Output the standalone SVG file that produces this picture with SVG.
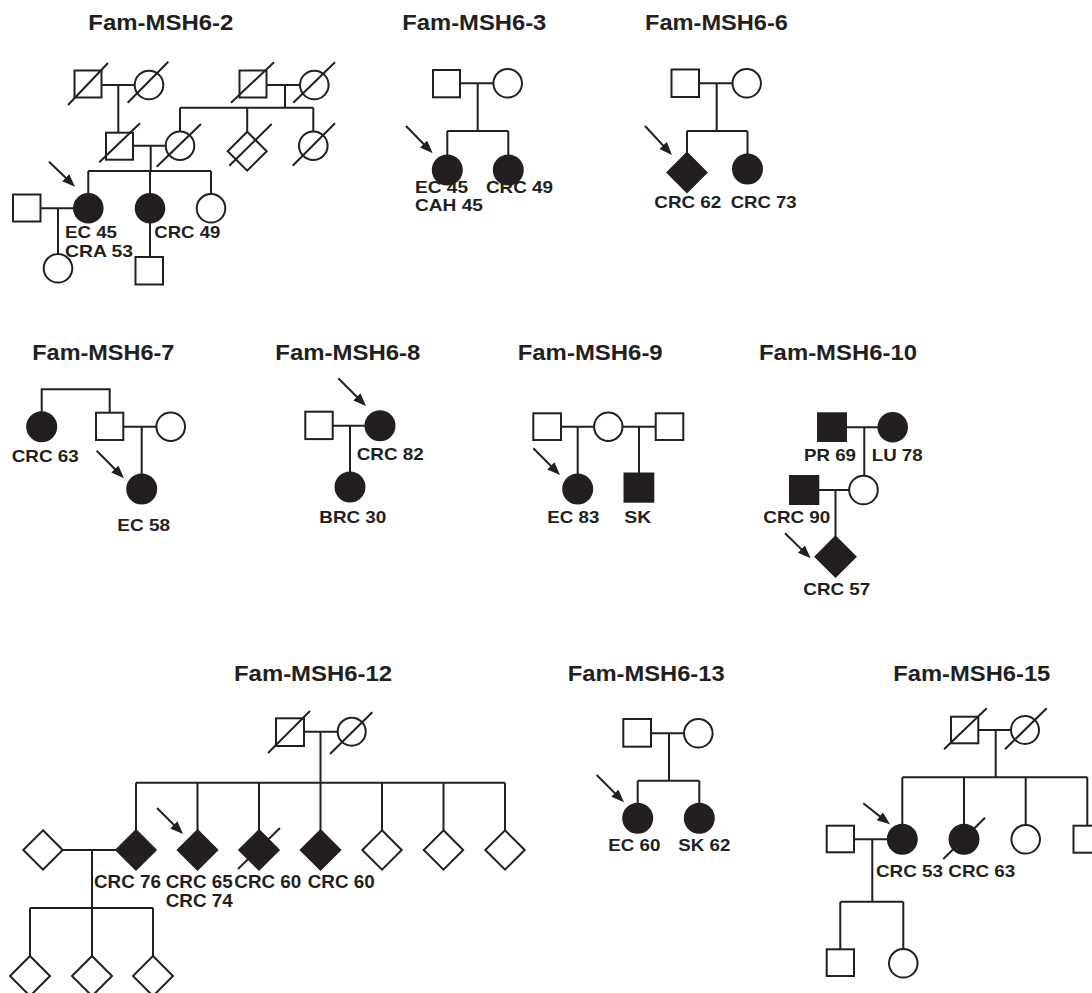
<svg xmlns="http://www.w3.org/2000/svg" width="1092" height="993" viewBox="0 0 1092 993">
<style>
.o{fill:#fff;stroke:#231f20;stroke-width:2}
.f{fill:#231f20;stroke:#231f20;stroke-width:2}
.ln{fill:none;stroke:#231f20;stroke-width:2}
.ar{fill:none;stroke:#231f20;stroke-width:2;marker-end:url(#ah)}
.t{font-family:"Liberation Sans",Arial,Helvetica,sans-serif;font-weight:bold;font-size:22px;fill:#231f20}
.l{font-family:"Liberation Sans",Arial,Helvetica,sans-serif;font-weight:bold;font-size:17px;fill:#231f20}
.lb{font-family:"Liberation Sans",Arial,Helvetica,sans-serif;font-weight:bold;font-size:18px;fill:#231f20}
</style>
<defs>
<marker id="ah" markerUnits="userSpaceOnUse" markerWidth="14" markerHeight="11" refX="7" refY="5" orient="auto">
<path d="M0,0 L13,5 L0,10 z" fill="#231f20"/>
</marker>
</defs>
<rect width="1092" height="993" fill="#fff"/>

<!-- Titles -->
<g id="titles">
<text class="t" x="88.3" y="30" textLength="145" lengthAdjust="spacingAndGlyphs">Fam-MSH6-2</text>
<text class="t" x="402.3" y="30" textLength="144" lengthAdjust="spacingAndGlyphs">Fam-MSH6-3</text>
<text class="t" x="645" y="30" textLength="143" lengthAdjust="spacingAndGlyphs">Fam-MSH6-6</text>
<text class="t" x="32.3" y="360" textLength="142" lengthAdjust="spacingAndGlyphs">Fam-MSH6-7</text>
<text class="t" x="275.3" y="360" textLength="145" lengthAdjust="spacingAndGlyphs">Fam-MSH6-8</text>
<text class="t" x="517.7" y="360" textLength="145" lengthAdjust="spacingAndGlyphs">Fam-MSH6-9</text>
<text class="t" x="759" y="360" textLength="158" lengthAdjust="spacingAndGlyphs">Fam-MSH6-10</text>
<text class="t" x="234" y="681" textLength="158" lengthAdjust="spacingAndGlyphs">Fam-MSH6-12</text>
<text class="t" x="567.7" y="681" textLength="157" lengthAdjust="spacingAndGlyphs">Fam-MSH6-13</text>
<text class="t" x="893.3" y="681" textLength="157" lengthAdjust="spacingAndGlyphs">Fam-MSH6-15</text>
</g>

<!-- Connectors -->
<g id="connectors">
<!-- Fam-2 -->
<path class="ln" d="M101.7,85 H134.7 M118.3,85 V132.7 M266.7,85 H300 M285,85 V107.7 M180,107.7 H313.3 M180,107.7 V131.4 M247.2,107.7 V131.7 M313.3,107.7 V131.4 M132.7,145.7 H165.7 M150.7,145.7 V171 M88.3,171 H211 M88.3,171 V194 M150,171 V194 M211,171 V194 M40.5,208.3 H74 M58,208.3 V254 M150,222.6 V257"/>
<path class="ar" d="M49,161.7 L70.7,182.5"/>
<!-- Fam-3 -->
<path class="ln" d="M460,83.3 H493.4 M477.7,83.3 V131 M447.3,131 H508.3 M447.3,131 V155.5 M508.3,131 V155.5"/>
<path class="ar" d="M406,126 L428.5,149"/>
<!-- Fam-6 -->
<path class="ln" d="M699,83.3 H732.5 M716.7,83.3 V131 M687,131 H747.5 M687,131 V153 M747.5,131 V154.5"/>
<path class="ar" d="M645,126 L667.9,150.6"/>
<!-- Fam-7 -->
<path class="ln" d="M41.7,412.2 V389.3 H109.7 V412.7 M123.3,426.7 H156.4 M141.7,426.7 V474.5"/>
<path class="ar" d="M96.7,450.7 L119.8,474"/>
<!-- Fam-8 -->
<path class="ln" d="M332.7,425.7 H365.5 M350,425.7 V472.5"/>
<path class="ar" d="M338.3,378.3 L361.8,401.8"/>
<!-- Fam-9 -->
<path class="ln" d="M561,426.7 H594.1 M577.7,426.7 V474.5 M622.5,426.7 H655.7 M639,426.7 V473.5"/>
<path class="ar" d="M533.3,448.3 L555.8,470.8"/>
<!-- Fam-10 -->
<path class="ln" d="M845.7,427.3 H878.4 M864.3,427.3 V475.7 M818.3,490 H849.2 M835.5,490 V536.7"/>
<path class="ar" d="M785,533.3 L806.4,554.1"/>
<!-- Fam-12 -->
<path class="ln" d="M304,731.7 H337.7 M320.5,731.7 V830.3 M136,782.7 H505 M136,782.7 V830.3 M197.5,782.7 V830.3 M259,782.7 V830.3 M382,782.7 V830.3 M443.5,782.7 V830.3 M505,782.7 V830.3 M62.7,850 H116.3 M92,850 V956 M30,908 H153 M30,908 V956 M153,908 V956"/>
<path class="ar" d="M157,808 L178.8,829.8"/>
<!-- Fam-13 -->
<path class="ln" d="M651,733.3 H684 M669,733.3 V780.7 M637.7,780.7 H699.3 M637.7,780.7 V803.8 M699.3,780.7 V803.8"/>
<path class="ar" d="M596.7,775 L619.8,798.1"/>
<!-- Fam-15 -->
<path class="ln" d="M978.3,730 H1011 M995.7,730 V777.3 M902.3,777.3 H1087.3 M902.3,777.3 V824.8 M964,777.3 V824.8 M1025.7,777.3 V825 M1087.3,777.3 V825.7 M854,839.3 H887.8 M872.3,839.3 V901.7 M840.3,901.7 H903.3 M840.3,901.7 V949.3 M903.3,901.7 V949"/>
<path class="ar" d="M863.3,803.3 L885.3,820.6"/>
</g>

<!-- Fam-MSH6-2 -->
<g id="fam2">
<g id="f2-gf1"><rect class="o" x="74.5" y="70.5" width="27" height="27"/><line class="ln" x1="68" y1="105" x2="108" y2="63"/></g>
<g id="f2-gm1"><circle class="o" cx="149" cy="85" r="14.3"/><line class="ln" x1="127.7" y1="102.7" x2="168.3" y2="61.7"/></g>
<g id="f2-gf2"><rect class="o" x="239.5" y="70.5" width="27" height="27"/><line class="ln" x1="231" y1="102.7" x2="274" y2="62.3"/></g>
<g id="f2-gm2"><circle class="o" cx="314.3" cy="85" r="14.3"/><line class="ln" x1="293.3" y1="102.7" x2="335" y2="62.3"/></g>
<g id="f2-father"><rect class="o" x="106" y="132.7" width="27" height="27"/><line class="ln" x1="99.3" y1="162.3" x2="140" y2="123.3"/></g>
<g id="f2-mother"><circle class="o" cx="180" cy="145.7" r="14.3"/><line class="ln" x1="156.7" y1="166.7" x2="201" y2="124"/></g>
<g id="f2-sib-d"><polygon class="o" points="247.2,131.7 266.7,151.2 247.2,170.7 227.7,151.2"/><line class="ln" x1="229.3" y1="165.7" x2="271.7" y2="124"/></g>
<g id="f2-aunt"><circle class="o" cx="313.3" cy="145.7" r="14.3"/><line class="ln" x1="292.7" y1="165.7" x2="335" y2="123.3"/></g>
<g id="f2-proband"><circle class="f" cx="88.3" cy="208.3" r="14.3"/></g>
<g id="f2-sister"><circle class="f" cx="150" cy="208.3" r="14.3"/></g>
<g id="f2-sister2"><circle class="o" cx="211" cy="208.3" r="14.3"/></g>
<g id="f2-spouse"><rect class="o" x="13" y="194.5" width="27.5" height="27"/></g>
<g id="f2-child1"><circle class="o" cx="58" cy="268.3" r="14.3"/></g>
<g id="f2-child2"><rect class="o" x="135.5" y="257" width="27.5" height="27.5"/></g>
<text class="l" x="65" y="238" textLength="52" lengthAdjust="spacingAndGlyphs">EC 45</text>
<text class="l" x="65" y="257" textLength="68" lengthAdjust="spacingAndGlyphs">CRA 53</text>
<text class="l" x="154.3" y="238" textLength="66" lengthAdjust="spacingAndGlyphs">CRC 49</text>
</g>

<!-- Fam-MSH6-3 -->
<g id="fam3">
<g id="f3-father"><rect class="o" x="433" y="70" width="27" height="27.3"/></g>
<g id="f3-mother"><circle class="o" cx="507.7" cy="83.3" r="14.3"/></g>
<g id="f3-proband"><circle class="f" cx="447.3" cy="170" r="14.5"/></g>
<g id="f3-sister"><circle class="f" cx="508.3" cy="170" r="14.5"/></g>
<text class="l" x="415" y="192.7" textLength="53" lengthAdjust="spacingAndGlyphs">EC 45</text>
<text class="l" x="415" y="210.7" textLength="68" lengthAdjust="spacingAndGlyphs">CAH 45</text>
<text class="l" x="486" y="193" textLength="67" lengthAdjust="spacingAndGlyphs">CRC 49</text>
</g>

<!-- Fam-MSH6-6 -->
<g id="fam6">
<g id="f6-father"><rect class="o" x="671.5" y="69.5" width="27.5" height="27.5"/></g>
<g id="f6-mother"><circle class="o" cx="746.7" cy="83.3" r="14.2"/></g>
<g id="f6-proband"><polygon class="f" points="687,153 706.5,172.5 687,192 667.5,172.5"/></g>
<g id="f6-sister"><circle class="f" cx="747.5" cy="169" r="14.5"/></g>
<text class="l" x="654.3" y="208" textLength="67" lengthAdjust="spacingAndGlyphs">CRC 62</text>
<text class="l" x="730.7" y="208" textLength="66" lengthAdjust="spacingAndGlyphs">CRC 73</text>
</g>

<!-- Fam-MSH6-7 -->
<g id="fam7">
<g id="f7-aunt"><circle class="f" cx="41.7" cy="426.7" r="14.5"/></g>
<g id="f7-father"><rect class="o" x="96" y="412.7" width="27.3" height="27.3"/></g>
<g id="f7-mother"><circle class="o" cx="170.7" cy="426.7" r="14.3"/></g>
<g id="f7-proband"><circle class="f" cx="141.7" cy="489" r="14.5"/></g>
<text class="l" x="11.7" y="461.7" textLength="67" lengthAdjust="spacingAndGlyphs">CRC 63</text>
<text class="l" x="117.3" y="530.7" textLength="52.7" lengthAdjust="spacingAndGlyphs">EC 58</text>
</g>

<!-- Fam-MSH6-8 -->
<g id="fam8">
<g id="f8-father"><rect class="o" x="305.3" y="411.7" width="27.4" height="27.4"/></g>
<g id="f8-proband"><circle class="f" cx="380" cy="425.7" r="14.5"/></g>
<g id="f8-daughter"><circle class="f" cx="350" cy="487" r="14.5"/></g>
<text class="l" x="356.7" y="460" textLength="67" lengthAdjust="spacingAndGlyphs">CRC 82</text>
<text class="l" x="319.3" y="523.3" textLength="67" lengthAdjust="spacingAndGlyphs">BRC 30</text>
</g>

<!-- Fam-MSH6-9 -->
<g id="fam9">
<g id="f9-father1"><rect class="o" x="533.3" y="413.3" width="27.7" height="26.7"/></g>
<g id="f9-mother"><circle class="o" cx="608.3" cy="426.7" r="14.2"/></g>
<g id="f9-father2"><rect class="o" x="655.7" y="413.3" width="27.6" height="26.7"/></g>
<g id="f9-proband"><circle class="f" cx="577.7" cy="489" r="14.5"/></g>
<g id="f9-halfbrother"><rect class="f" x="624.5" y="473.5" width="28.8" height="28.2"/></g>
<text class="l" x="547.3" y="523.3" textLength="52" lengthAdjust="spacingAndGlyphs">EC 83</text>
<text class="l" x="624.3" y="523.3" textLength="27" lengthAdjust="spacingAndGlyphs">SK</text>
</g>

<!-- Fam-MSH6-10 -->
<g id="fam10">
<g id="f10-gf"><rect class="f" x="818" y="413.3" width="28" height="27.7"/></g>
<g id="f10-gm"><circle class="f" cx="892.7" cy="427.3" r="14.3"/></g>
<g id="f10-mother"><circle class="o" cx="863.5" cy="490" r="14.3"/></g>
<g id="f10-father"><rect class="f" x="790" y="476" width="28.3" height="28"/></g>
<g id="f10-proband"><polygon class="f" points="835.5,536.7 855.5,556.7 835.5,576.7 815.5,556.7"/></g>
<text class="l" x="804" y="460.7" textLength="52" lengthAdjust="spacingAndGlyphs">PR 69</text>
<text class="l" x="871.7" y="460.7" textLength="51" lengthAdjust="spacingAndGlyphs">LU 78</text>
<text class="l" x="763.3" y="522.7" textLength="67" lengthAdjust="spacingAndGlyphs">CRC 90</text>
<text class="l" x="803.3" y="595" textLength="67" lengthAdjust="spacingAndGlyphs">CRC 57</text>
</g>

<!-- Fam-MSH6-12 -->
<g id="fam12">
<g id="f12-father"><rect class="o" x="276" y="718.3" width="28" height="27.7"/><line class="ln" x1="268" y1="753" x2="310" y2="711"/></g>
<g id="f12-mother"><circle class="o" cx="351.7" cy="731.7" r="14"/><line class="ln" x1="330" y1="754" x2="372.3" y2="712.3"/></g>
<g id="f12-c1"><polygon class="f" points="136,830.3 155.7,850 136,869.7 116.3,850"/></g>
<g id="f12-c2"><polygon class="f" points="197.5,830.3 217.2,850 197.5,869.7 177.8,850"/></g>
<g id="f12-c3"><polygon class="f" points="259,830.3 278.7,850 259,869.7 239.3,850"/><line class="ln" x1="238" y1="869" x2="280" y2="828"/></g>
<g id="f12-c4"><polygon class="f" points="320.5,830.3 340.2,850 320.5,869.7 300.8,850"/></g>
<g id="f12-c5"><polygon class="o" points="382,830.3 401.7,850 382,869.7 362.3,850"/></g>
<g id="f12-c6"><polygon class="o" points="443.5,830.3 463.2,850 443.5,869.7 423.8,850"/></g>
<g id="f12-c7"><polygon class="o" points="505,830.3 524.7,850 505,869.7 485.3,850"/></g>
<g id="f12-spouse"><polygon class="o" points="43,830.3 62.7,850 43,869.7 23.3,850"/></g>
<g id="f12-g1"><polygon class="o" points="30,956 50,976 30,996 10,976"/></g>
<g id="f12-g2"><polygon class="o" points="92,956 112,976 92,996 72,976"/></g>
<g id="f12-g3"><polygon class="o" points="153,956 173,976 153,996 133,976"/></g>
<text class="lb" x="94" y="888.3" textLength="67" lengthAdjust="spacingAndGlyphs">CRC 76</text>
<text class="lb" x="165.7" y="888.3" textLength="67" lengthAdjust="spacingAndGlyphs">CRC 65</text>
<text class="lb" x="165.7" y="907.3" textLength="67" lengthAdjust="spacingAndGlyphs">CRC 74</text>
<text class="lb" x="234.3" y="888.3" textLength="67" lengthAdjust="spacingAndGlyphs">CRC 60</text>
<text class="lb" x="307.7" y="888.3" textLength="67" lengthAdjust="spacingAndGlyphs">CRC 60</text>
</g>

<!-- Fam-MSH6-13 -->
<g id="fam13">
<g id="f13-father"><rect class="o" x="623.3" y="719" width="27.7" height="27.7"/></g>
<g id="f13-mother"><circle class="o" cx="698.3" cy="733.3" r="14.3"/></g>
<g id="f13-proband"><circle class="f" cx="637.7" cy="818.3" r="14.5"/></g>
<g id="f13-sister"><circle class="f" cx="699.3" cy="818.3" r="14.5"/></g>
<text class="l" x="608.3" y="850.7" textLength="52" lengthAdjust="spacingAndGlyphs">EC 60</text>
<text class="l" x="678.3" y="850.7" textLength="52" lengthAdjust="spacingAndGlyphs">SK 62</text>
</g>

<!-- Fam-MSH6-15 -->
<g id="fam15">
<g id="f15-father"><rect class="o" x="951" y="716.7" width="27.3" height="26.6"/><line class="ln" x1="944" y1="749.3" x2="986.7" y2="708.3"/></g>
<g id="f15-mother"><circle class="o" cx="1025" cy="730" r="14"/><line class="ln" x1="1005" y1="749.3" x2="1046.7" y2="708.3"/></g>
<g id="f15-proband"><circle class="f" cx="902.3" cy="839.3" r="14.5"/></g>
<g id="f15-sister1"><circle class="f" cx="964" cy="839.3" r="14.5"/><line class="ln" x1="943.3" y1="859" x2="985" y2="817.7"/></g>
<g id="f15-sister2"><circle class="o" cx="1025.7" cy="839.3" r="14.3"/></g>
<g id="f15-brother"><rect class="o" x="1073.5" y="825.7" width="27.6" height="27"/></g>
<g id="f15-spouse"><rect class="o" x="826.7" y="825.7" width="27.3" height="26.6"/></g>
<g id="f15-son"><rect class="o" x="826.7" y="949.3" width="27.3" height="26.7"/></g>
<g id="f15-daughter"><circle class="o" cx="903.3" cy="963.3" r="14.3"/></g>
<text class="l" x="876" y="876.7" textLength="67" lengthAdjust="spacingAndGlyphs">CRC 53</text>
<text class="l" x="948.3" y="876.7" textLength="67" lengthAdjust="spacingAndGlyphs">CRC 63</text>
</g>
</svg>
